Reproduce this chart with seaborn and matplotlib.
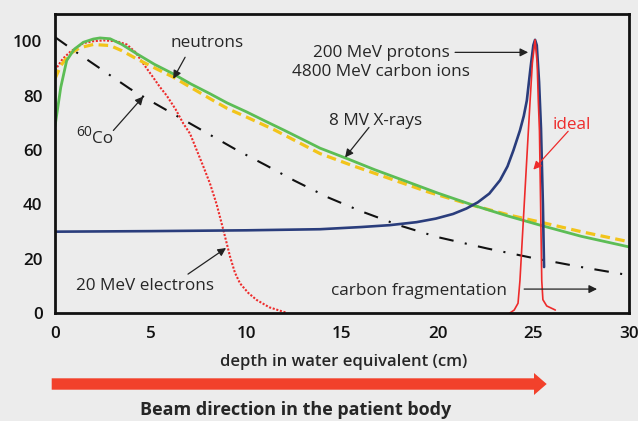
import matplotlib
matplotlib.use("Agg")
import matplotlib.pyplot as plt
import seaborn as sns
import numpy as np
import pandas as pd
from matplotlib.patches import Polygon

# ---------------- data ----------------
xray_depth = [0, 0.3, 0.61, 1.0, 1.48, 2.0, 2.35, 2.88, 3.5, 4.27, 5.2, 6.18, 7.1, 8.1, 9.0,
              10.02, 11.0, 12.0, 13.0, 13.85, 15.25, 16.7, 18.2, 20.0, 21.87, 23.6, 25.35, 27.5, 30]
xray_dose = [68.7, 83, 92.9, 97, 99.6, 100.8, 101.2, 100.9, 98.8, 95.4, 91.5, 88, 84.3, 80.7, 77.3,
             74, 70.6, 67.2, 63.7, 60.7, 56.9, 52.8, 48.9, 44.2, 39.7, 35.9, 32.4, 28.3, 24.4]

neutron_depth = [0, 0.3, 0.78, 1.3, 2.0, 2.88, 3.5, 4.27, 5.2, 6.18, 7.1, 8.1, 9.0, 10.02, 11.5,
                 13.85, 15.5, 17.5, 19.5, 21.87, 23.8, 25.5, 27.5, 30]
neutron_dose = [86.2, 91, 95.4, 97.6, 98.8, 98.4, 96.5, 93.5, 90.2, 86.8, 83, 78.9, 75.3, 72.1, 67.3,
                58.7, 54.4, 49.5, 44.6, 39.6, 36, 33.3, 30, 26.3]

electron_depth = [0, 0.4, 0.78, 1.48, 2.0, 2.53, 3.2, 3.75, 4.2, 4.62, 5.05, 5.49, 5.84, 6.3, 6.71,
                  7.06, 7.41, 7.75, 8.1, 8.45, 8.8, 9.15, 9.4, 9.67, 10.1, 10.54, 11.2, 12.1]
electron_dose = [89.3, 93.5, 96, 99.3, 100, 100.3, 100, 98.8, 96, 91.7, 87.5, 83.1, 80, 75, 69.7,
                 66, 59.9, 54, 47.7, 40, 30.6, 20.8, 15, 11, 7.5, 4.9, 2.2, 0.2]

cobalt_depth = [0, 1, 2, 3, 3.92, 5, 6.5, 8, 9.5, 11, 12.5, 14.3, 16, 18, 20, 22.6, 25, 27.5, 30]
cobalt_dose = [101.5, 96.5, 91.7, 86.9, 82.5, 78, 72, 66, 60, 54.5, 48.8, 42.5, 37.5, 32.3, 28,
               23.8, 20.3, 17, 14]

proton_depth = [0, 5, 10, 13.85, 16, 17.5, 18.9, 19.9, 20.8, 21.5, 22.1, 22.7, 23.26, 23.65,
                23.96, 24.3, 24.5, 24.66, 24.85, 25.0, 25.09, 25.18, 25.3, 25.4, 25.5, 25.56]
proton_dose = [30, 30.2, 30.5, 30.9, 31.7, 32.4, 33.5, 34.8, 36.5, 38.5, 40.8, 44, 48.9, 54,
               59.9, 67.2, 72.5, 78.2, 90, 98.5, 100.5, 98.5, 85, 68, 40, 17]

ideal_depth = [23.75, 24.0, 24.2, 24.3, 24.5, 24.74, 24.83, 24.95, 25.09, 25.2, 25.26, 25.32,
               25.38, 25.44, 25.5, 25.7, 26.15]
ideal_dose = [0, 1.2, 3.7, 12, 37, 67, 78, 92, 100.5, 92, 78, 67, 40, 12, 5, 2.7, 1.2]

x_ticks = [0, 5, 10, 15, 20, 25, 30]
y_ticks = [0, 20, 40, 60, 80, 100]

# ---------------- styling ----------------
BG = "#ececec"
TXT = "#262626"
sns.set_theme(style="white")
plt.rcParams["font.family"] = ["Open Sans", "DejaVu Sans"]
plt.rcParams["figure.facecolor"] = BG
plt.rcParams["axes.facecolor"] = BG

W, H = 638, 421
fig = plt.figure(figsize=(W / 100, H / 100), dpi=100)
ax = fig.add_axes([55 / W, 1 - 313.3 / H, (629 - 55) / W, (313.3 - 14) / H])

sns.lineplot(x=cobalt_depth, y=cobalt_dose, ax=ax, color="#111111", lw=1.5,
             linestyle=(0, (7, 5.5, 1, 5.5)), sort=False, estimator=None)
sns.lineplot(x=electron_depth, y=electron_dose, ax=ax, color="#ee2b2b", lw=1.5,
             linestyle=(0, (1, 0.8)), sort=False, estimator=None)
sns.lineplot(x=neutron_depth, y=neutron_dose, ax=ax, color="#f2c41a", lw=2.3,
             linestyle=(0, (3, 1.7)), sort=False, estimator=None)
sns.lineplot(x=xray_depth, y=xray_dose, ax=ax, color="#5cbd55", lw=2.0,
             sort=False, estimator=None)
sns.lineplot(x=proton_depth, y=proton_dose, ax=ax, color="#2a3d7c", lw=1.9,
             sort=False, estimator=None)
sns.lineplot(x=ideal_depth, y=ideal_dose, ax=ax, color="#ee2b2b", lw=1.2,
             sort=False, estimator=None)

ax.set_xlim(0, 30)
ax.set_ylim(0, 110)
ax.set_xticks(x_ticks)
ax.set_yticks(y_ticks)
ax.set_xticklabels([str(v) for v in x_ticks])
ax.set_yticklabels([str(v) for v in y_ticks])
ax.tick_params(direction="out", length=6, width=2, colors="#111111", labelcolor="#111111",
               labelsize=12.3, pad=3)
for lab in ax.get_xticklabels() + ax.get_yticklabels():
    lab.set_fontweight("semibold")
for s in ax.spines.values():
    s.set_visible(True)
    s.set_color("#111111")
    s.set_linewidth(2)
ax.set_xlabel("")
ax.set_ylabel("")

# ---------------- annotations ----------------
afs = 12.3
arr = dict(arrowstyle="-|>", lw=0.9, color="#222222", mutation_scale=12,
           shrinkA=0, shrinkB=0)

def note(text, tx, ty, tail, head, color=TXT, props=arr, **kw):
    ax.text(tx, ty, text, fontsize=afs, color=color, ha="center", va="center", **kw)
    ax.annotate("", xy=head, xytext=tail, arrowprops=props)

note("neutrons", 7.93, 99.3, (6.8, 94.1), (6.18, 86.2))
ax.text(1.53, 66.5, "60", fontsize=10, color=TXT, ha="center", va="center")
ax.text(2.49, 63.9, "Co", fontsize=afs, color=TXT, ha="center", va="center")
ax.annotate("", xy=(4.62, 79.7), xytext=(3.05, 67.2), arrowprops=arr)
ax.text(17.04, 92.2, "200 MeV protons\n4800 MeV carbon ions", fontsize=afs, color=TXT,
        ha="center", va="center", linespacing=1.2)
ax.annotate("", xy=(24.73, 95.9), xytext=(20.91, 95.9), arrowprops=arr)
note("8 MV X-rays", 16.78, 70.5, (16.41, 68.3), (15.16, 57.3))
red_arr = dict(arr, color="#ee2b2b")
note("ideal", 27.01, 69.2, (26.82, 66.9), (25.0, 52.8), color="#ee2b2b", props=red_arr)
note("20 MeV electrons", 4.70, 10.1, (6.95, 14.4), (8.94, 24.0))
note("carbon fragmentation", 19.03, 8.3, (24.52, 8.9), (28.33, 8.9))

# ---------------- labels under the axes ----------------
fig.text(343.5 / W, 1 - 362 / H, "depth in water equivalent (cm)", fontsize=12,
         fontweight="semibold", color=TXT, ha="center", va="center")
fig.text(296 / W, 1 - 410 / H, "Beam direction in the patient body", fontsize=13,
         fontweight="bold", color=TXT, ha="center", va="center")

pts = [(51.7, 378.3), (534, 378.3), (534, 373), (546.7, 384), (534, 395), (534, 389.7),
       (51.7, 389.7)]
poly = Polygon([(px / W, 1 - py / H) for px, py in pts], closed=True,
               transform=fig.transFigure, facecolor="#f2412b", edgecolor="none")
fig.patches.append(poly)

fig.savefig("out.png", dpi=100, facecolor=BG)
